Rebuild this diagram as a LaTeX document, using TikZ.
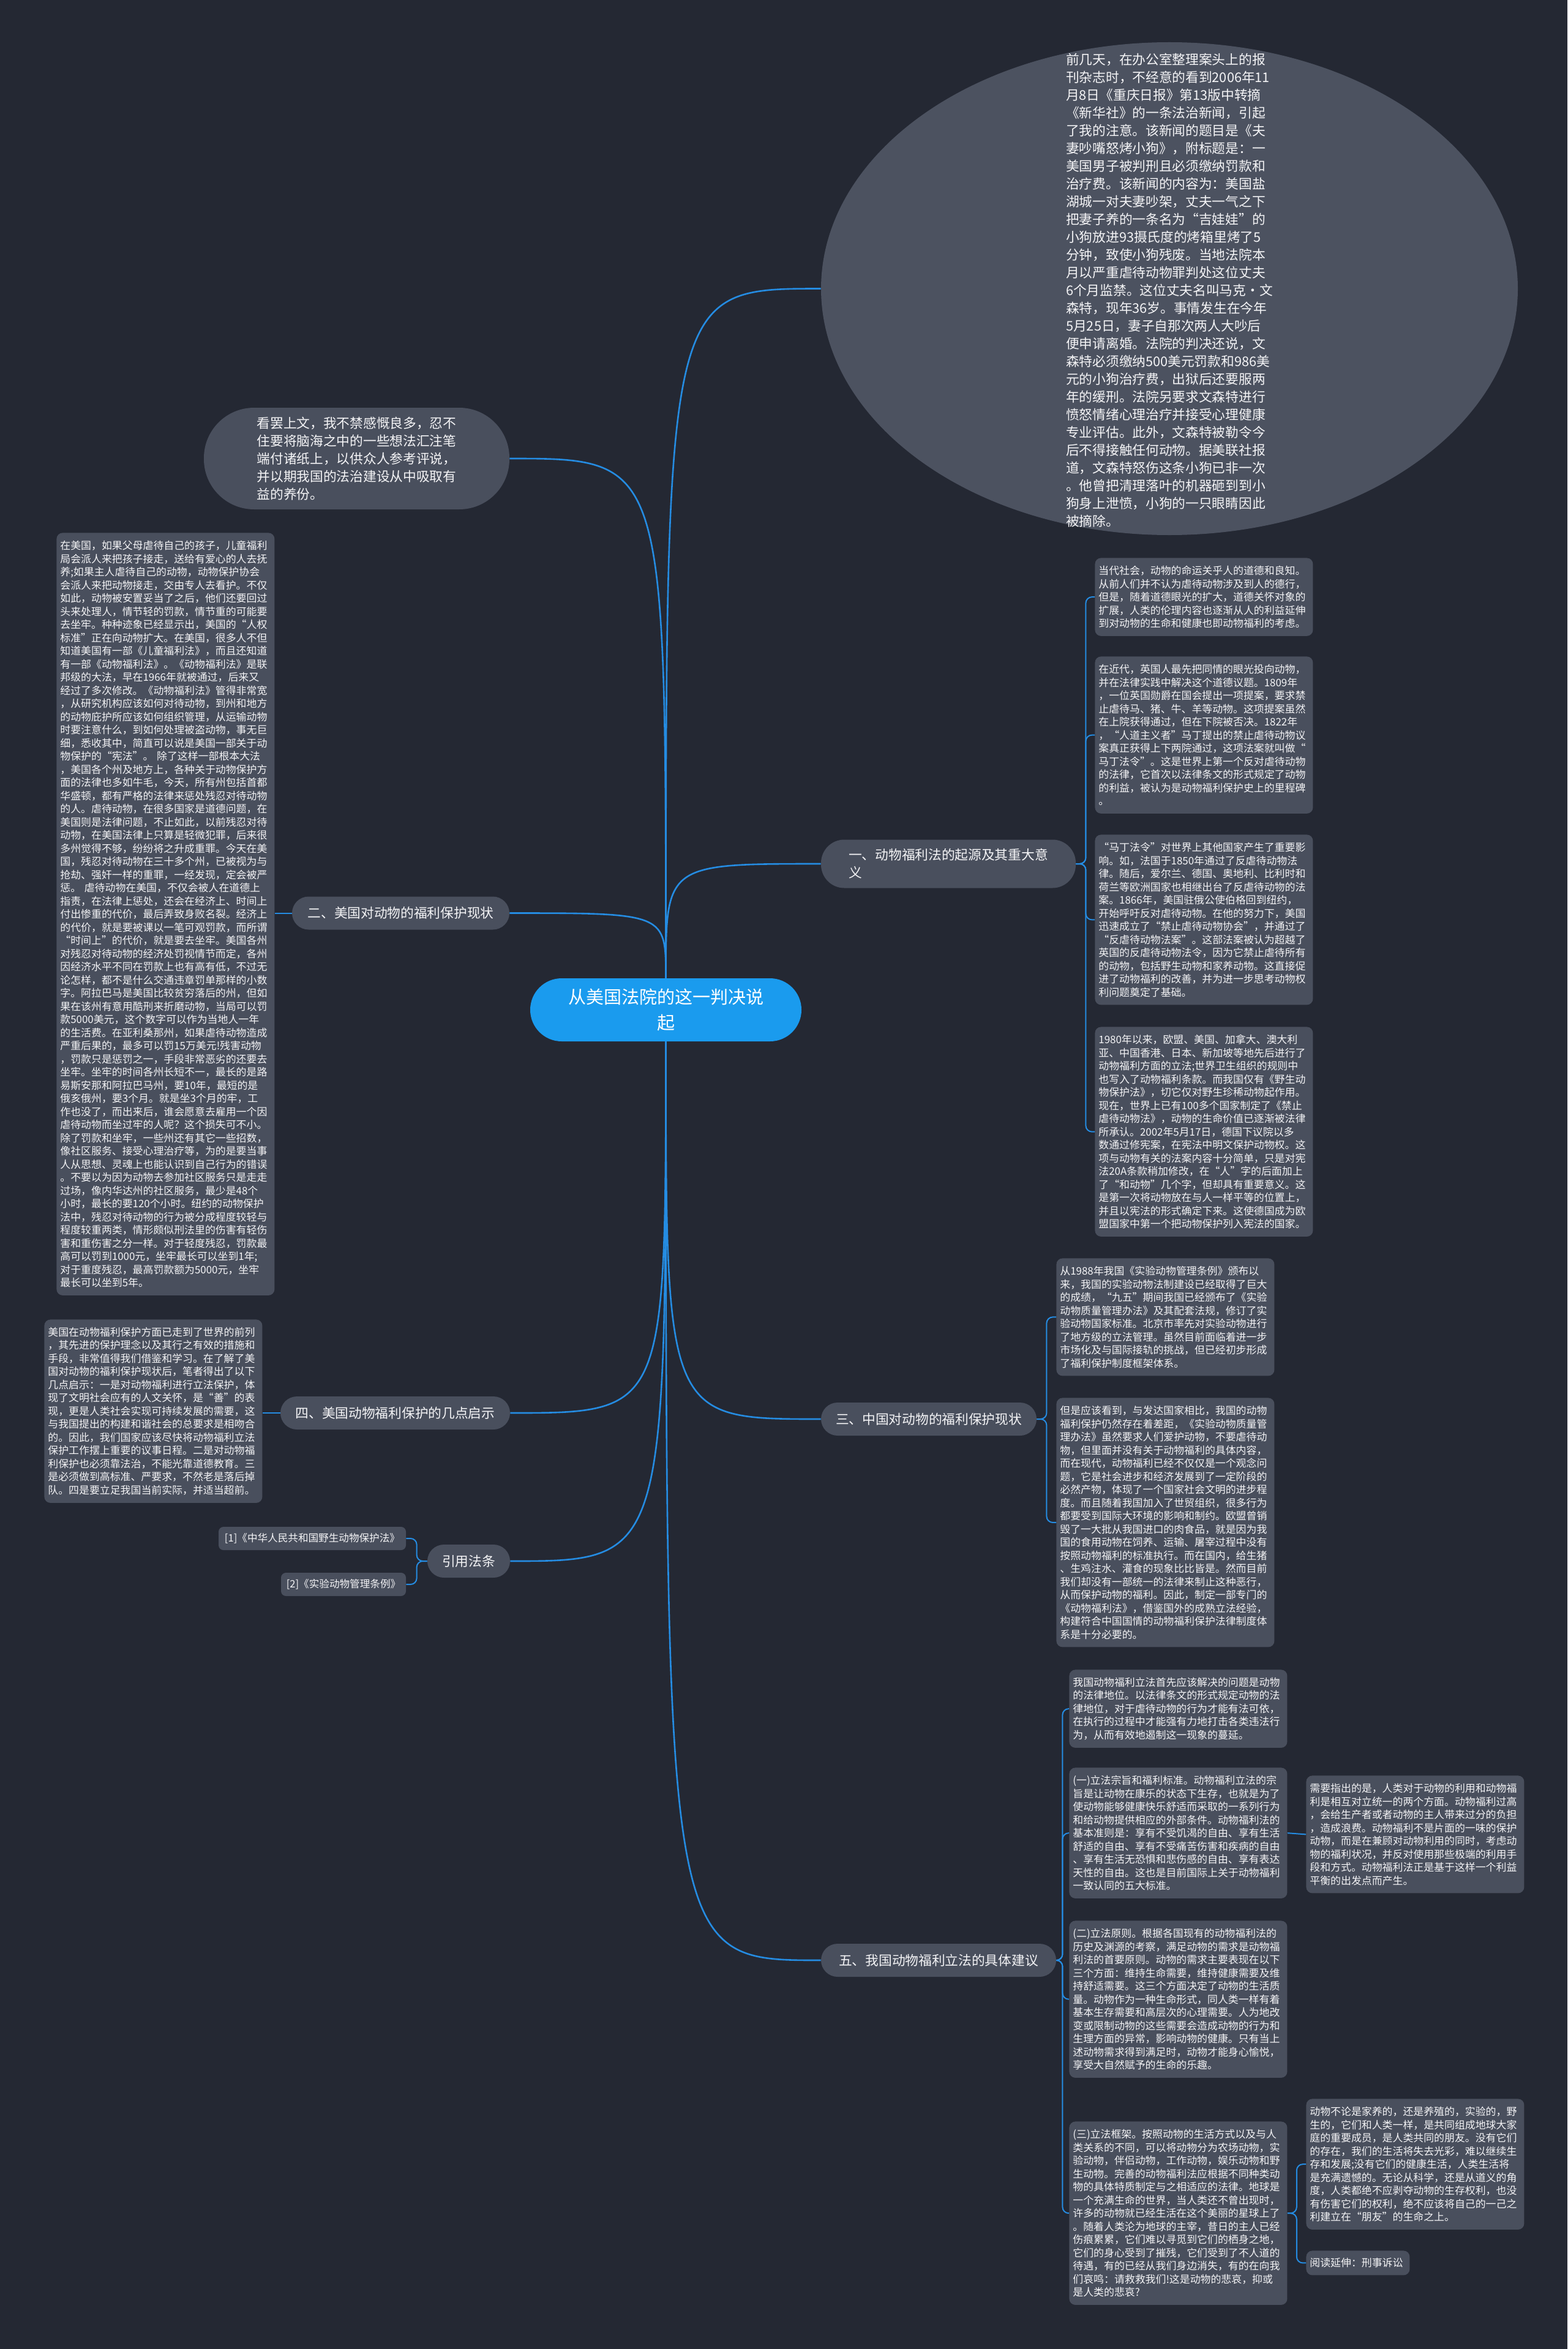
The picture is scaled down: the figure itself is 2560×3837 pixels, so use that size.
\documentclass[tikz,border=0pt]{standalone}
\usepackage{fontspec}
\setmainfont{Noto Sans CJK SC}
\usetikzlibrary{shapes.geometric}
\definecolor{bg}{RGB}{36,40,51}
\definecolor{nodefill}{RGB}{73,79,93}
\definecolor{ellfill}{RGB}{76,82,96}
\definecolor{centerfill}{RGB}{26,155,238}
\definecolor{linecol}{RGB}{37,140,226}
\definecolor{txt}{RGB}{244,244,246}
\begin{document}
\begin{tikzpicture}[x=0.5pt,y=-0.5pt,
  blk/.style={fill=nodefill, rounded corners=5pt, text=txt, anchor=north west, align=left,
    inner xsep=3pt, inner ysep=4pt, minimum width=178pt, text width=172pt,
    font=\fontsize{8.45pt}{10.75pt}\selectfont},
  lbl/.style={fill=nodefill, text=txt, minimum height=27pt, rounded corners=13.5pt, inner sep=2pt,
    font=\fontsize{10.85pt}{14.5pt}\selectfont, align=left},
  refbox/.style={fill=nodefill, text=txt, minimum height=19pt, rounded corners=4pt, inner sep=2pt,
    font=\fontsize{8.3pt}{10.75pt}\selectfont},
  main/.style={draw=linecol, line width=1.3pt},
  sub/.style={draw=linecol, line width=1pt, rounded corners=5pt}]

\fill[bg] (0,0) rectangle (2560,3837);
\useasboundingbox (0,0) rectangle (2560,3837);

% centre
\node[fill=centerfill, text=white, minimum width=221.5pt, minimum height=51.5pt, rounded corners=25.7pt,
  align=center, font=\fontsize{14.5pt}{20.8pt}\selectfont, inner sep=2pt] (C) at (1087.5,1649.5)
  {从美国法院的这一判决说\\起};

% ellipse
\node[ellipse, fill=ellfill, minimum width=569pt, minimum height=402.5pt, inner sep=0pt] (ell) at (1910,471.5) {};
\node[text=txt, align=left, font=\fontsize{10.85pt}{14.5pt}\selectfont, inner sep=0pt] (elltext) at (1910,474) {前几天，在办公室整理案头上的报\\
刊杂志时，不经意的看到2006年11\\
月8日《重庆日报》第13版中转摘\\
《新华社》的一条法治新闻，引起\\
了我的注意。该新闻的题目是《夫\\
妻吵嘴怒烤小狗》，附标题是：一\\
美国男子被判刑且必须缴纳罚款和\\
治疗费。该新闻的内容为：美国盐\\
湖城一对夫妻吵架，丈夫一气之下\\
把妻子养的一条名为“吉娃娃”的\\
小狗放进93摄氏度的烤箱里烤了5\\
分钟，致使小狗残废。当地法院本\\
月以严重虐待动物罪判处这位丈夫\\
6个月监禁。这位丈夫名叫马克•文\\
森特，现年36岁。事情发生在今年\\
5月25日，妻子自那次两人大吵后\\
便申请离婚。法院的判决还说，文\\
森特必须缴纳500美元罚款和986美\\
元的小狗治疗费，出狱后还要服两\\
年的缓刑。法院另要求文森特进行\\
愤怒情绪心理治疗并接受心理健康\\
专业评估。此外，文森特被勒令今\\
后不得接触任何动物。据美联社报\\
道，文森特怒伤这条小狗已非一次\\
。他曾把清理落叶的机器砸到到小\\
狗身上泄愤，小狗的一只眼睛因此\\
被摘除。};

% bubble
\node[fill=nodefill, text=txt, minimum width=249.5pt, minimum height=83pt, rounded corners=41pt,
  align=left, font=\fontsize{10.85pt}{14.5pt}\selectfont, inner sep=2pt] (bub) at (582.5,749)
  {看罢上文，我不禁感慨良多，忍不\\
住要将脑海之中的一些想法汇注笔\\
端付诸纸上，以供众人参考评说，\\
并以期我国的法治建设从中吸取有\\
益的养份。};

% labels
\node[lbl, minimum width=208pt, minimum height=39.5pt, rounded corners=19pt] (L1) at (1549,1411)
  {一、动物福利法的起源及其重大意\\义};
\node[lbl, minimum width=177.5pt] (L2) at (654.5,1491.5) {二、美国对动物的福利保护现状};
\node[lbl, minimum width=176pt] (L3) at (1517,2318) {三、中国对动物的福利保护现状};
\node[lbl, minimum width=187.5pt] (L4) at (645.5,2308) {四、美国动物福利保护的几点启示};
\node[lbl, minimum width=192pt] (L5) at (1533,3202) {五、我国动物福利立法的具体建议};
\node[lbl, minimum width=67.5pt] (Lref) at (765.5,2550) {引用法条};

% references
\node[refbox, minimum width=153pt] (R1) at (510,2513) {[1]《中华人民共和国野生动物保护法》};
\node[refbox, minimum width=102pt] (R2) at (561,2588) {[2]《实验动物管理条例》};

% section 2 block
\node[blk, minimum height=622.75pt] (A2) at (92,870) {在美国，如果父母虐待自己的孩子，儿童福利\\
局会派人来把孩子接走，送给有爱心的人去抚\\
养;如果主人虐待自己的动物，动物保护协会\\
会派人来把动物接走，交由专人去看护。不仅\\
如此，动物被安置妥当了之后，他们还要回过\\
头来处理人，情节轻的罚款，情节重的可能要\\
去坐牢。种种迹象已经显示出，美国的“人权\\
标准”正在向动物扩大。在美国，很多人不但\\
知道美国有一部《儿童福利法》，而且还知道\\
有一部《动物福利法》。《动物福利法》是联\\
邦级的大法，早在1966年就被通过，后来又\\
经过了多次修改。《动物福利法》管得非常宽\\
，从研究机构应该如何对待动物，到州和地方\\
的动物庇护所应该如何组织管理，从运输动物\\
时要注意什么，到如何处理被盗动物，事无巨\\
细，悉收其中，简直可以说是美国一部关于动\\
物保护的“宪法”。~除了这样一部根本大法\\
，美国各个州及地方上，各种关于动物保护方\\
面的法律也多如牛毛，今天，所有州包括首都\\
华盛顿，都有严格的法律来惩处残忍对待动物\\
的人。虐待动物，在很多国家是道德问题，在\\
美国则是法律问题，不止如此，以前残忍对待\\
动物，在美国法律上只算是轻微犯罪，后来很\\
多州觉得不够，纷纷将之升成重罪。今天在美\\
国，残忍对待动物在三十多个州，已被视为与\\
抢劫、强奸一样的重罪，一经发现，定会被严\\
惩。~虐待动物在美国，不仅会被人在道德上\\
指责，在法律上惩处，还会在经济上、时间上\\
付出惨重的代价，最后弄致身败名裂。经济上\\
的代价，就是要被课以一笔可观罚款，而所谓\\
“时间上”的代价，就是要去坐牢。美国各州\\
对残忍对待动物的经济处罚视情节而定，各州\\
因经济水平不同在罚款上也有高有低，不过无\\
论怎样，都不是什么交通违章罚单那样的小数\\
字。阿拉巴马是美国比较贫穷落后的州，但如\\
果在该州有意用酷刑来折磨动物，当局可以罚\\
款5000美元，这个数字可以作为当地人一年\\
的生活费。在亚利桑那州，如果虐待动物造成\\
严重后果的，最多可以罚15万美元!残害动物\\
，罚款只是惩罚之一，手段非常恶劣的还要去\\
坐牢。坐牢的时间各州长短不一，最长的是路\\
易斯安那和阿拉巴马州，要10年，最短的是\\
俄亥俄州，要3个月。就是坐3个月的牢，工\\
作也没了，而出来后，谁会愿意去雇用一个因\\
虐待动物而坐过牢的人呢？这个损失可不小。\\
除了罚款和坐牢，一些州还有其它一些招数，\\
像社区服务、接受心理治疗等，为的是要当事\\
人从思想、灵魂上也能认识到自己行为的错误\\
。不要以为因为动物去参加社区服务只是走走\\
过场，像内华达州的社区服务，最少是48个\\
小时，最长的要120个小时。纽约的动物保护\\
法中，残忍对待动物的行为被分成程度较轻与\\
程度较重两类，情形颇似刑法里的伤害有轻伤\\
害和重伤害之分一样。对于轻度残忍，罚款最\\
高可以罚到1000元，坐牢最长可以坐到1年;\\
对于重度残忍，最高罚款额为5000元，坐牢\\
最长可以坐到5年。};

% section 4 block
\node[blk, minimum height=149.75pt] (A4) at (72,2155) {美国在动物福利保护方面已走到了世界的前列\\
，其先进的保护理念以及其行之有效的措施和\\
手段，非常值得我们借鉴和学习。在了解了美\\
国对动物的福利保护现状后，笔者得出了以下\\
几点启示：一是对动物福利进行立法保护，体\\
现了文明社会应有的人文关怀，是“善”的表\\
现，更是人类社会实现可持续发展的需要，这\\
与我国提出的构建和谐社会的总要求是相吻合\\
的。因此，我们国家应该尽快将动物福利立法\\
保护工作摆上重要的议事日程。二是对动物福\\
利保护也必须靠法治，不能光靠道德教育。三\\
是必须做到高标准、严要求，不然老是落后掉\\
队。四是要立足我国当前实际，并适当超前。};

% section 1 blocks
\node[blk, minimum height=63.75pt] (B1) at (1788,911) {当代社会，动物的命运关乎人的道德和良知。\\
从前人们并不认为虐待动物涉及到人的德行，\\
但是，随着道德眼光的扩大，道德关怀对象的\\
扩展，人类的伦理内容也逐渐从人的利益延伸\\
到对动物的生命和健康也即动物福利的考虑。};
\node[blk, minimum height=128.25pt] (B2) at (1788,1072) {在近代，英国人最先把同情的眼光投向动物，\\
并在法律实践中解决这个道德议题。1809年\\
，一位英国勋爵在国会提出一项提案，要求禁\\
止虐待马、猪、牛、羊等动物。这项提案虽然\\
在上院获得通过，但在下院被否决。1822年\\
，“人道主义者”马丁提出的禁止虐待动物议\\
案真正获得上下两院通过，这项法案就叫做“\\
马丁法令”。这是世界上第一个反对虐待动物\\
的法律，它首次以法律条文的形式规定了动物\\
的利益，被认为是动物福利保护史上的里程碑\\
。};
\node[blk, minimum height=139pt] (B3) at (1788,1363) {“马丁法令”对世界上其他国家产生了重要影\\
响。如，法国于1850年通过了反虐待动物法\\
律。随后，爱尔兰、德国、奥地利、比利时和\\
荷兰等欧洲国家也相继出台了反虐待动物的法\\
案。1866年，美国驻俄公使伯格回到纽约，\\
开始呼吁反对虐待动物。在他的努力下，美国\\
迅速成立了“禁止虐待动物协会”，并通过了\\
“反虐待动物法案”。这部法案被认为超越了\\
英国的反虐待动物法令，因为它禁止虐待所有\\
的动物，包括野生动物和家养动物。这直接促\\
进了动物福利的改善，并为进一步思考动物权\\
利问题奠定了基础。};
\node[blk, minimum height=171.25pt] (B4) at (1788,1677) {1980年以来，欧盟、美国、加拿大、澳大利\\
亚、中国香港、日本、新加坡等地先后进行了\\
动物福利方面的立法;世界卫生组织的规则中\\
也写入了动物福利条款。而我国仅有《野生动\\
物保护法》，切它仅对野生珍稀动物起作用。\\
现在，世界上已有100多个国家制定了《禁止\\
虐待动物法》，动物的生命价值已逐渐被法律\\
所承认。2002年5月17日，德国下议院以多\\
数通过修宪案，在宪法中明文保护动物权。这\\
项与动物有关的法案内容十分简单，只是对宪\\
法20A条款稍加修改，在“人”字的后面加上\\
了“和动物”几个字，但却具有重要意义。这\\
是第一次将动物放在与人一样平等的位置上，\\
并且以宪法的形式确定下来。这使德国成为欧\\
盟国家中第一个把动物保护列入宪法的国家。};

% section 3 blocks
\node[blk, minimum height=96pt] (C1) at (1725,2055) {从1988年我国《实验动物管理条例》颁布以\\
来，我国的实验动物法制建设已经取得了巨大\\
的成绩，“九五”期间我国已经颁布了《实验\\
动物质量管理办法》及其配套法规，修订了实\\
验动物国家标准。北京市率先对实验动物进行\\
了地方级的立法管理。虽然目前面临着进一步\\
市场化及与国际接轨的挑战，但已经初步形成\\
了福利保护制度框架体系。};
\node[blk, minimum height=203.5pt] (C2) at (1725,2283) {但是应该看到，与发达国家相比，我国的动物\\
福利保护仍然存在着差距，《实验动物质量管\\
理办法》虽然要求人们爱护动物，不要虐待动\\
物，但里面并没有关于动物福利的具体内容，\\
而在现代，动物福利已经不仅仅是一个观念问\\
题，它是社会进步和经济发展到了一定阶段的\\
必然产物，体现了一个国家社会文明的进步程\\
度。而且随着我国加入了世贸组织，很多行为\\
都要受到国际大环境的影响和制约。欧盟曾销\\
毁了一大批从我国进口的肉食品，就是因为我\\
国的食用动物在饲养、运输、屠宰过程中没有\\
按照动物福利的标准执行。而在国内，给生猪\\
、生鸡注水、灌食的现象比比皆是。然而目前\\
我们却没有一部统一的法律来制止这种恶行，\\
从而保护动物的福利。因此，制定一部专门的\\
《动物福利法》，借鉴国外的成熟立法经验，\\
构建符合中国国情的动物福利保护法律制度体\\
系是十分必要的。};

% section 5 blocks
\node[blk, minimum height=63.75pt] (D1) at (1746,2727) {我国动物福利立法首先应该解决的问题是动物\\
的法律地位。以法律条文的形式规定动物的法\\
律地位，对于虐待动物的行为才能有法可依，\\
在执行的过程中才能强有力地打击各类违法行\\
为，从而有效地遏制这一现象的蔓延。};
\node[blk, minimum height=106.75pt] (D2) at (1746,2887) {(一)立法宗旨和福利标准。动物福利立法的宗\\
旨是让动物在康乐的状态下生存，也就是为了\\
使动物能够健康快乐舒适而采取的一系列行为\\
和给动物提供相应的外部条件。动物福利法的\\
基本准则是：享有不受饥渴的自由、享有生活\\
舒适的自由、享有不受痛苦伤害和疾病的自由\\
、享有生活无恐惧和悲伤感的自由、享有表达\\
天性的自由。这也是目前国际上关于动物福利\\
一致认同的五大标准。};
\node[blk, minimum height=128.25pt] (D3) at (1746,3137) {(二)立法原则。根据各国现有的动物福利法的\\
历史及渊源的考察，满足动物的需求是动物福\\
利法的首要原则。动物的需求主要表现在以下\\
三个方面：维持生命需要，维持健康需要及维\\
持舒适需要。这三个方面决定了动物的生活质\\
量。动物作为一种生命形式，同人类一样有着\\
基本生存需要和高层次的心理需要。人为地改\\
变或限制动物的这些需要会造成动物的行为和\\
生理方面的异常，影响动物的健康。只有当上\\
述动物需求得到满足时，动物才能身心愉悦，\\
享受大自然赋予的生命的乐趣。};
\node[blk, minimum height=149.75pt] (D4) at (1746,3465) {(三)立法框架。按照动物的生活方式以及与人\\
类关系的不同，可以将动物分为农场动物，实\\
验动物，伴侣动物，工作动物，娱乐动物和野\\
生动物。完善的动物福利法应根据不同种类动\\
物的具体特质制定与之相适应的法律。地球是\\
一个充满生命的世界，当人类还不曾出现时，\\
许多的动物就已经生活在这个美丽的星球上了\\
。随着人类沦为地球的主宰，昔日的主人已经\\
伤痕累累，它们难以寻觅到它们的栖身之地，\\
它们的身心受到了摧残，它们受到了不人道的\\
待遇，有的已经从我们身边消失，有的在向我\\
们哀鸣：请救救我们!这是动物的悲哀，抑或\\
是人类的悲哀?};

% far right blocks
\node[blk, minimum height=96pt] (E1) at (2133,2900) {需要指出的是，人类对于动物的利用和动物福\\
利是相互对立统一的两个方面。动物福利过高\\
，会给生产者或者动物的主人带来过分的负担\\
，造成浪费。动物福利不是片面的一味的保护\\
动物，而是在兼顾对动物利用的同时，考虑动\\
物的福利状况，并反对使用那些极端的利用手\\
段和方式。动物福利法正是基于这样一个利益\\
平衡的出发点而产生。};
\node[blk, minimum height=106.75pt] (E2) at (2133,3428) {动物不论是家养的，还是养殖的，实验的，野\\
生的，它们和人类一样，是共同组成地球大家\\
庭的重要成员，是人类共同的朋友。没有它们\\
的存在，我们的生活将失去光彩，难以继续生\\
存和发展;没有它们的健康生活，人类生活将\\
是充满遗憾的。无论从科学，还是从道义的角\\
度，人类都绝不应剥夺动物的生存权利，也没\\
有伤害它们的权利，绝不应该将自己的一己之\\
利建立在“朋友”的生命之上。};
\node[blk, minimum width=84.5pt, text width=78.5pt, minimum height=20pt] (E3) at (2133,3676) {阅读延伸：刑事诉讼};

% main connectors
\draw[main] (C.north) .. controls (C.north |- bub.east) .. (bub.east);
\draw[main] (C.north) .. controls (C.north |- ell.west) .. (ell.west);
\draw[main] (C.north) .. controls (C.north |- L2.east) .. (L2.east);
\draw[main] (C.north) .. controls (C.north |- L1.west) .. (L1.west);
\draw[main] (C.south) .. controls (C.south |- L4.east) .. (L4.east);
\draw[main] (C.south) .. controls (C.south |- Lref.east) .. (Lref.east);
\draw[main] (C.south) .. controls (C.south |- L3.west) .. (L3.west);
\draw[main] (C.south) .. controls (C.south |- L5.west) .. (L5.west);

% sub connectors
\foreach \b in {B1,B2,B3,B4} \draw[sub] (L1.east) -- ++(16,0) |- (\b.west);
\draw[sub] (L2.west) -- (A2.east |- L2.west);
\draw[sub] (L4.west) -- (A4.east |- L4.west);
\foreach \r in {R1,R2} \draw[sub] (Lref.west) -- ++(-17,0) |- (\r.east);
\foreach \c in {C1,C2} \draw[sub] (L3.east) -- ++(16,0) |- (\c.west);
\foreach \d in {D1,D2,D3,D4} \draw[sub] (L5.east) -- ++(10,0) |- (\d.west);
\draw[sub] (D2.east) -- (E1.west);
\foreach \e in {E2,E3} \draw[sub] (D4.east) -- ++(15,0) |- (\e.west);
\end{tikzpicture}
\end{document}
